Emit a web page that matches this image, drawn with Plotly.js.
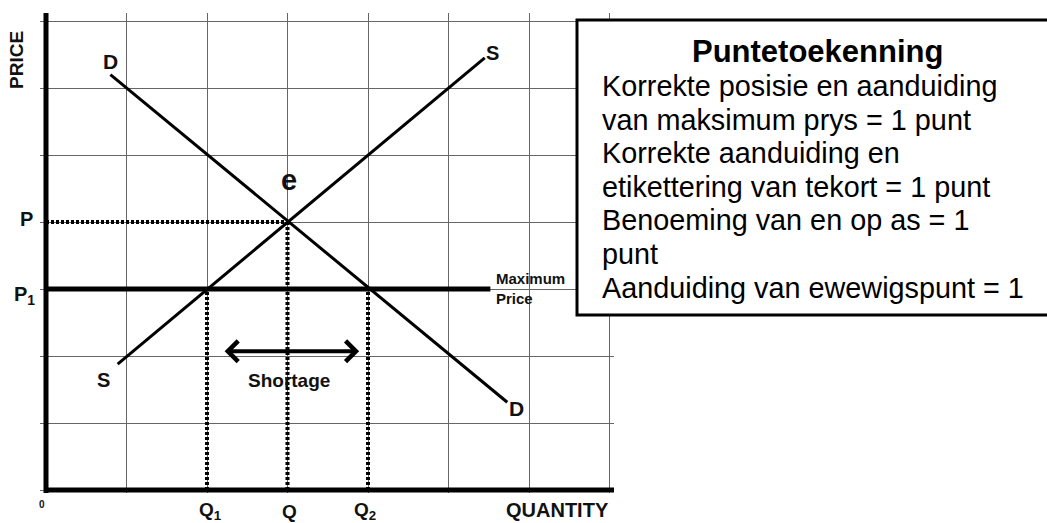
<!DOCTYPE html>
<html>
<head>
<meta charset="utf-8">
<script src="https://cdn.plot.ly/plotly-3.0.1.min.js"></script>
<style>html,body{margin:0;padding:0;background:#fff;}#chart{width:1047px;height:523px;}</style>
</head>
<body>
<div id="chart"></div>
<script>
// ---- data (grid units) ----
const demandQ = [0.8, 5.73];
const demandP = [6.2, 1.31];
const supplyQ = [0.89, 5.45];
const supplyP = [1.88, 6.45];
const eqQ = 3, eqP = 4;
const maxPrice = 3;
const maxPriceQ = [0, 5.52];
const q1 = 2, q2 = 4;
const shortageQ = [2.2, 3.89];
const shortageP = 2.07;
const boxTitle = 'Puntetoekenning';
const boxLines = [
  'Korrekte posisie en aanduiding',
  'van maksimum prys = 1 punt',
  'Korrekte aanduiding en',
  'etikettering van tekort = 1 punt',
  'Benoeming van en op as = 1',
  'punt',
  'Aanduiding van ewewigspunt = 1'
];

// ---- layout geometry ----
const W = 1047, H = 523;
const mL = 40, mR = 433, mT = 13, mB = 30;
const pw = W - mL - mR, ph = H - mT - mB;
const x0px = 46, y0px = 490, ux = 80.5, uy = 67;
const xr = [-(x0px - mL) / ux, (W - mR - x0px) / ux];
const yr = [-(H - mB - y0px) / uy, (y0px - mT) / uy];
const PX = px => (px - mL) / pw;
const PY = py => (H - mB - py) / ph;

const FONT = 'Liberation Sans, Arial, sans-serif';
const dotted = '3px,2px';
const dotLine = {color: '#000', width: 4, dash: dotted};

const traces = [
  {x: demandQ, y: demandP, mode: 'lines', line: {color: '#000', width: 3}},
  {x: supplyQ, y: supplyP, mode: 'lines', line: {color: '#000', width: 3}},
  {x: [0, eqQ], y: [eqP, eqP], mode: 'lines', line: dotLine},
  {x: [eqQ, eqQ], y: [0, eqP], mode: 'lines', line: dotLine},
  {x: [q1, q1], y: [0, maxPrice], mode: 'lines', line: dotLine},
  {x: [q2, q2], y: [0, maxPrice], mode: 'lines', line: dotLine},
  {x: maxPriceQ, y: [maxPrice, maxPrice], mode: 'lines', line: {color: '#000', width: 5}}
];

function lab(text, px, py, size, extra) {
  return Object.assign({
    xref: 'paper', yref: 'paper', x: PX(px), y: PY(py), text: text,
    showarrow: false, xanchor: 'center', yanchor: 'middle',
    font: {family: FONT, size: size, color: '#111'}
  }, extra || {});
}

const annotations = [
  lab('<b>D</b>', 110, 62, 21),
  lab('<b>S</b>', 103, 380, 20),
  lab('<b>S</b>', 492, 53, 20),
  lab('<b>D</b>', 516, 408, 21),
  lab('<b>e</b>', 289, 180, 29),
  lab('<b>Maximum<br>Price</b>', 494, 288, 15, {xanchor: 'left', align: 'left'}),
  lab('<b>Shortage</b>', 289, 380, 19),
  lab('<b>P</b>', 26, 219, 20),
  lab('<b>P<sub>1</sub></b>', 24, 295, 20),
  lab('<b>Q<sub>1</sub></b>', 210, 511, 19),
  lab('<b>Q</b>', 289, 511, 19),
  lab('<b>Q<sub>2</sub></b>', 365, 511, 19),
  lab('<b>0</b>', 42, 504, 10),
  lab('<b>QUANTITY</b>', 557, 510, 20),
  lab('<b>PRICE</b>', 17, 60, 19, {textangle: -90}),
  {
    x: shortageQ[1], y: shortageP, ax: shortageQ[0], ay: shortageP,
    xref: 'x', yref: 'y', axref: 'x', ayref: 'y', text: '',
    showarrow: true, arrowhead: 4, startarrowhead: 4, arrowside: 'end+start',
    arrowsize: 1, startarrowsize: 1, arrowwidth: 4, arrowcolor: '#000'
  },
  lab('<b>' + boxTitle + '</b>', 817, 51, 31, {font: {family: FONT, size: 31, color: '#000'}})
];
boxLines.forEach((t, i) => {
  annotations.push(lab(t, 600, 86 + i * 33.6, 28.8,
    {xanchor: 'left', font: {family: FONT, size: 28.8, color: '#000'}}));
});

const layout = {
  width: W, height: H,
  margin: {l: mL, r: mR, t: mT, b: mB, pad: 0},
  paper_bgcolor: '#fff', plot_bgcolor: '#fff',
  showlegend: false, hovermode: false,
  xaxis: {range: xr, dtick: 1, tick0: 0, showgrid: true, gridcolor: '#666', gridwidth: 1,
          zeroline: false, showline: false, showticklabels: false, ticks: '', fixedrange: true},
  yaxis: {range: yr, dtick: 1, tick0: 0, showgrid: true, gridcolor: '#666', gridwidth: 1,
          zeroline: false, showline: false, showticklabels: false, ticks: '', fixedrange: true},
  shapes: [
    {type: 'line', xref: 'x', yref: 'paper', x0: 0, x1: 0, y0: 0, y1: 1, line: {color: '#000', width: 5}},
    {type: 'line', xref: 'paper', yref: 'y', x0: PX(46), x1: 1, y0: 0, y1: 0, line: {color: '#000', width: 5}},
    {type: 'rect', xref: 'paper', yref: 'paper', x0: PX(577), x1: PX(1055), y0: PY(315), y1: PY(20),
     line: {color: '#000', width: 3}, fillcolor: '#fff', layer: 'above'}
  ],
  annotations: annotations
};

Plotly.newPlot('chart', traces, layout, {staticPlot: true, displayModeBar: false});
</script>
</body>
</html>
